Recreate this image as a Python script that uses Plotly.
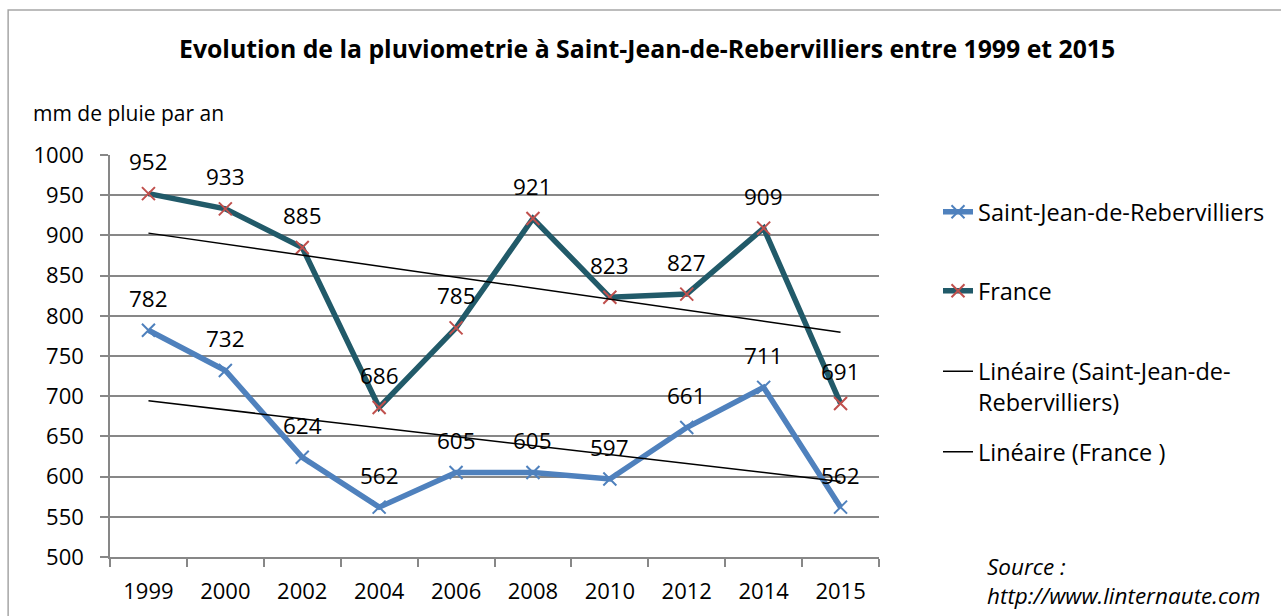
import numpy as np
import plotly.graph_objects as go

# Rainfall data (mm per year)
years = ["1999", "2000", "2002", "2004", "2006", "2008", "2010", "2012", "2014", "2015"]
saint_jean = [782, 732, 624, 562, 605, 605, 597, 661, 711, 562]
france = [952, 933, 885, 686, 785, 921, 823, 827, 909, 691]

FONT = "Open Sans"
BLUE = "#4F81BD"
TEAL = "#215A69"
RED = "#C0504D"
GRID = "#878787"

# plot area in pixels: x 110..880, y 155..557
PX_L, PX_W, PX_B, PX_H = 110, 770, 557, 402


def px_x(px):
    return (px - PX_L) / PX_W


def px_y(py):
    return (PX_B - py) / PX_H


def linear_trend(values):
    # least-squares line over the category index (1..n)
    x = np.arange(1, len(values) + 1)
    slope, intercept = np.polyfit(x, values, 1)
    return list(slope * x + intercept)


fig = go.Figure()

fig.add_trace(go.Scatter(
    x=years, y=saint_jean, name="Saint-Jean-de-Rebervilliers",
    mode="lines+markers", legend="legend",
    line=dict(color=BLUE, width=5.5),
    marker=dict(symbol="x-thin", size=13, line=dict(color=BLUE, width=2)),
))
fig.add_trace(go.Scatter(
    x=years, y=france, name="France",
    mode="lines+markers", legend="legend2",
    line=dict(color=TEAL, width=5.5),
    marker=dict(symbol="x-thin", size=13, line=dict(color=RED, width=2)),
))
fig.add_trace(go.Scatter(
    x=years, y=linear_trend(saint_jean), name="Linéaire (Saint-Jean-de-<br>Rebervilliers)",
    mode="lines", legend="legend3",
    line=dict(color="black", width=1.5),
))
fig.add_trace(go.Scatter(
    x=years, y=linear_trend(france), name="Linéaire (France )",
    mode="lines", legend="legend4",
    line=dict(color="black", width=1.5),
))

annotations = []
for series in (saint_jean, france):
    for i, v in enumerate(series):
        annotations.append(dict(
            x=i, y=v, xref="x", yref="y", text=str(v), showarrow=False,
            yshift=32, font=dict(family=FONT, size=22.5, color="black"),
        ))

annotations += [
    dict(text="<b>Evolution de la pluviometrie à Saint-Jean-de-Rebervilliers entre 1999 et 2015</b>",
         xref="paper", yref="paper", x=px_x(648), y=px_y(48),
         showarrow=False, xanchor="center", yanchor="middle",
         font=dict(family=FONT, size=24.8, color="black")),
    dict(text="mm de pluie par an", xref="paper", yref="paper",
         x=px_x(31), y=px_y(113), showarrow=False,
         xanchor="left", yanchor="middle",
         font=dict(family=FONT, size=21, color="black")),
    dict(text="<i>Source :<br>http://www.linternaute.com</i>", xref="paper", yref="paper",
         x=px_x(986), y=px_y(581), showarrow=False,
         xanchor="left", yanchor="middle", align="left",
         font=dict(family=FONT, size=22.5, color="black")),
]


def legend_box(cy):
    return dict(
        x=px_x(938), y=px_y(cy), xanchor="left", yanchor="middle",
        valign="top", font=dict(family=FONT, size=23.5, color="black"),
        bgcolor="rgba(0,0,0,0)",
    )


fig.update_layout(
    width=1281, height=616,
    margin=dict(l=110, r=401, t=155, b=59),
    paper_bgcolor="white", plot_bgcolor="white",
    font=dict(family=FONT, size=22, color="black"),
    showlegend=True,
    legend=legend_box(212),
    legend2=legend_box(291),
    legend3=legend_box(387),
    legend4=legend_box(452),
    annotations=annotations,
    shapes=[dict(type="rect", xref="paper", yref="paper",
                 x0=px_x(8), x1=px_x(1290), y0=px_y(630), y1=px_y(10),
                 line=dict(color="#A6A6A6", width=1.5), layer="below")],
)

fig.update_xaxes(
    type="category", showgrid=False, showline=True, linecolor=GRID, linewidth=1.5,
    ticks="outside", ticklen=8, tickcolor=GRID, tickwidth=1.5, tickson="boundaries",
    tickfont=dict(family=FONT, size=22), range=[-0.5, 9.5], ticklabelstandoff=14,
)
fig.update_yaxes(
    range=[500, 1000], dtick=50, showgrid=True, gridcolor=GRID, gridwidth=1.5,
    showline=True, linecolor=GRID, linewidth=1.5,
    ticks="outside", ticklen=8, tickcolor=GRID, tickwidth=1.5,
    tickfont=dict(family=FONT, size=22), zeroline=False, ticklabelstandoff=12,
)

fig.write_html("out.html")
